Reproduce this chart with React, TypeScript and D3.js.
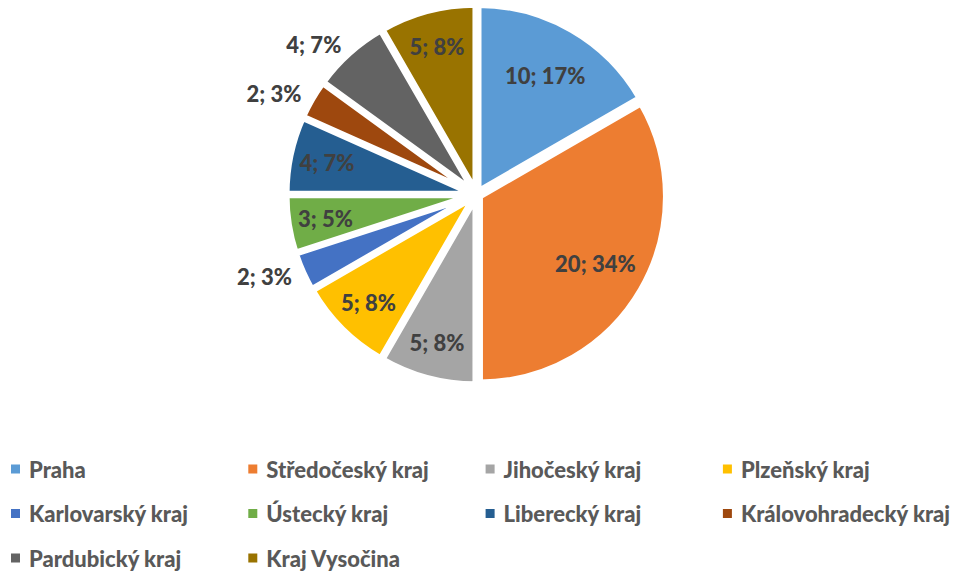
import React, { useMemo } from "react";
import * as d3 from "d3";

const categories = [
  "Praha",
  "Středočeský kraj",
  "Jihočeský kraj",
  "Plzeňský kraj",
  "Karlovarský kraj",
  "Ústecký kraj",
  "Liberecký kraj",
  "Královohradecký kraj",
  "Pardubický kraj",
  "Kraj Vysočina",
];
const values = [10, 20, 5, 5, 2, 3, 4, 2, 4, 5];
const percentLabels = ["17%", "34%", "8%", "8%", "3%", "5%", "7%", "3%", "7%", "8%"];
const colors = [
  "#5B9BD5",
  "#ED7D31",
  "#A5A5A5",
  "#FFC000",
  "#4472C4",
  "#70AD47",
  "#255E91",
  "#9E480E",
  "#636363",
  "#997300",
];

const W = 960;
const H = 573;
const CX = 476.5;
const CY = 194.5;
const R_VIS = 183;
const STROKE = 6;
const EXPLODE = 4;
const FONT = "Lato, 'Open Sans', sans-serif";
const LABEL_SIZE = 22;
const LEGEND_SIZE = 22;
const WEIGHT = 900;

function measure(text: string, size: number): number {
  const c = document.createElement("canvas");
  const ctx = c.getContext("2d");
  if (!ctx) return text.length * size * 0.5;
  ctx.font = `bold ${size}px Lato`;
  return ctx.measureText(text).width;
}

export default function App() {
  const pieData = useMemo(() => d3.pie<number>().value((d) => d).sort(null)(values), []);
  const arcGen = d3.arc<d3.PieArcDatum<number>>().innerRadius(0).outerRadius(R_VIS + STROKE / 2);

  const labels = pieData.map((p, i) => {
    const mid = (p.startAngle + p.endAngle) / 2;
    const span = p.endAngle - p.startAngle;
    const text = `${values[i]}; ${percentLabels[i]}`;
    const w = measure(text, LABEL_SIZE);
    const h = LABEL_SIZE * 0.75;
    const rho = span >= (50 * Math.PI) / 180 ? R_VIS * 0.75 : R_VIS * 0.835;
    const lx = Math.sin(mid) * rho;
    const ly = -Math.cos(mid) * rho;
    const ox = Math.sin(mid) * EXPLODE;
    const oy = -Math.cos(mid) * EXPLODE;
    const pad = 5;
    const corners = [
      [lx - w / 2 - ox, ly - h / 2 - oy],
      [lx + w / 2 - ox, ly - h / 2 - oy],
      [lx - w / 2 - ox, ly + h / 2 - oy],
      [lx + w / 2 - ox, ly + h / 2 - oy],
    ];
    const distEdge = (x: number, y: number, a: number) =>
      Math.abs(x * -Math.cos(a) - y * Math.sin(a));
    let fits = true;
    for (const [x, y] of corners) {
      let ang = Math.atan2(x, -y);
      if (ang < 0) ang += 2 * Math.PI;
      if (ang < p.startAngle || ang > p.endAngle) fits = false;
      if (Math.hypot(x, y) > R_VIS) fits = false;
      if (distEdge(x, y, p.startAngle) < pad || distEdge(x, y, p.endAngle) < pad) fits = false;
    }
    if (fits) {
      return { text, x: CX + lx, y: CY + ly, anchor: "middle" };
    }
    const ro = 202;
    return {
      text,
      x: CX + Math.sin(mid) * ro,
      y: CY - Math.cos(mid) * ro,
      anchor: Math.sin(mid) < 0 ? "end" : "start",
    };
  });

  return (
    <div style={{ position: "absolute", left: 0, top: 0 }}>
      <svg width={W} height={H} style={{ display: "block", background: "#fff" }}>
        <g>
          {pieData.map((p, i) => {
            const mid = (p.startAngle + p.endAngle) / 2;
            const ox = Math.sin(mid) * EXPLODE;
            const oy = -Math.cos(mid) * EXPLODE;
            return (
              <path
                key={i}
                d={arcGen(p) || ""}
                transform={`translate(${CX + ox},${CY + oy})`}
                fill={colors[i]}
                stroke="#fff"
                strokeWidth={STROKE}
                strokeLinejoin="miter"
              />
            );
          })}
        </g>
        <g fontFamily={FONT} fontWeight={WEIGHT} fontSize={LABEL_SIZE} fill="#404040">
          {labels.map((l, i) => (
            <text key={i} x={l.x} y={l.y} textAnchor={l.anchor} dominantBaseline="central">
              {l.text}
            </text>
          ))}
        </g>
        <g fontFamily={FONT} fontWeight={WEIGHT} fontSize={LEGEND_SIZE} fill="#595959">
          {categories.map((c, i) => {
            const col = i % 4;
            const row = Math.floor(i / 4);
            const x = 11 + col * 237.3;
            const y = 469 + row * 44.5;
            return (
              <g key={c}>
                <rect x={x} y={y - 4.5} width={9} height={9} fill={colors[i]} />
                <text x={x + 18} y={y} dominantBaseline="central">
                  {c}
                </text>
              </g>
            );
          })}
        </g>
      </svg>
    </div>
  );
}
